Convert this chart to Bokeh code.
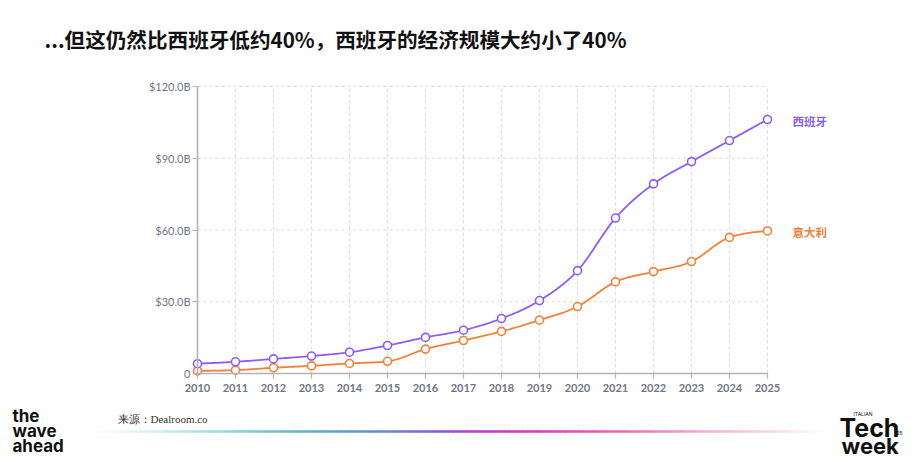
import numpy as np
from bokeh.plotting import figure
from bokeh.models import Range1d, LinearAxis, FixedTicker, ColumnDataSource
from bokeh.core.properties import value
from bokeh.embed import file_html
from bokeh.resources import INLINE

# ---------------- data ----------------
YEARS = list(range(2010, 2026))
SPAIN = [4.1, 4.9, 6.1, 7.3, 8.9, 11.7, 15.1, 18.1, 23.0, 30.5, 43.0, 65.0, 79.3, 88.6, 97.4, 106.2]
ITALY = [1.1, 1.4, 2.4, 3.2, 4.2, 5.1, 10.2, 13.8, 17.6, 22.3, 28.0, 38.3, 42.6, 46.8, 56.9, 59.6]
SERIES_NAMES = ["西班牙", "意大利"]
Y_TICKS = [0, 30, 60, 90, 120]
Y_TICK_LABELS = ["0", "$30.0B", "$60.0B", "$90.0B", "$120.0B"]
TITLE = "...但这仍然比西班牙低约40%，西班牙的经济规模大约小了40%"
SOURCE = "来源：Dealroom.co"

# ---------------- layout (page pixels) ----------------
W, H = 920, 460
PX_X0, PX_X1 = 197, 767         # first / last year
PX_Y0, PX_Y1 = 373, 86          # 0 / 120
X_MIN, X_MAX = YEARS[0], YEARS[-1]
Y_MIN, Y_MAX = Y_TICKS[0], Y_TICKS[-1]
kx = (PX_X1 - PX_X0) / (X_MAX - X_MIN)
ky = (PX_Y0 - PX_Y1) / (Y_MAX - Y_MIN)

def dx(px):
    return X_MIN + (px - PX_X0) / kx

def dy(py):
    return Y_MIN + (PX_Y0 - py) / ky

PURPLE = "#8b5cf6"
ORANGE = "#f0813a"
TICK_COLOR = "#6f7687"
AXIS_COLOR = "#b3b3b3"
GRID_COLOR = "#dadada"

p = figure(width=W, height=H, output_backend="svg", toolbar_location=None,
           x_axis_location=None, y_axis_location=None,
           x_range=Range1d(dx(0), dx(W)), y_range=Range1d(dy(H), dy(0)),
           min_border=0)
p.outline_line_color = None
p.xgrid.visible = False
p.ygrid.visible = False
p.border_fill_color = "white"
p.background_fill_color = "white"

# ---------------- grid ----------------
gx = YEARS[1:]
p.segment(x0=gx, y0=[Y_MIN] * len(gx), x1=gx, y1=[Y_MAX] * len(gx),
          line_color=GRID_COLOR, line_width=1, line_dash="3 3")
gy = Y_TICKS[1:]
p.segment(x0=[X_MIN] * len(gy), y0=gy, x1=[X_MAX] * len(gy), y1=gy,
          line_color=GRID_COLOR, line_width=1, line_dash="3 3")

# ---------------- axes ----------------
xaxis = LinearAxis(ticker=FixedTicker(ticks=YEARS), fixed_location=Y_MIN, bounds=(X_MIN, X_MAX))
yaxis = LinearAxis(ticker=FixedTicker(ticks=Y_TICKS), fixed_location=X_MIN, bounds=(Y_MIN, Y_MAX))
yaxis.major_label_overrides = {tk: lb for tk, lb in zip(Y_TICKS, Y_TICK_LABELS)}
for ax in (xaxis, yaxis):
    ax.axis_line_color = AXIS_COLOR
    ax.axis_line_width = 1.6
    ax.major_tick_line_color = AXIS_COLOR
    ax.major_tick_line_width = 1.2
    ax.major_tick_out = 5
    ax.major_tick_in = 0
    ax.minor_tick_line_color = None
    ax.major_label_text_color = TICK_COLOR
    ax.major_label_text_font = "Lato"
    ax.major_label_text_font_size = "11px"
xaxis.major_label_standoff = 5
xaxis.major_label_text_font_style = "bold"
yaxis.major_label_standoff = 2
p.add_layout(xaxis, "below")
p.add_layout(yaxis, "left")

# ---------------- smooth lines (monotone cubic, like d3.curveMonotoneX) ----------------
def monotone_curve(xs, ys, n=24):
    xs = np.asarray(xs, float)
    ys = np.asarray(ys, float)
    h = np.diff(xs)
    s = np.diff(ys) / h
    tg = np.zeros(len(xs))
    for i in range(1, len(xs) - 1):
        pp = (s[i - 1] * h[i] + s[i] * h[i - 1]) / (h[i - 1] + h[i])
        tg[i] = (np.sign(s[i - 1]) + np.sign(s[i])) * min(abs(s[i - 1]), abs(s[i]), 0.5 * abs(pp))
    tg[0] = (3 * s[0] - tg[1]) / 2
    tg[-1] = (3 * s[-1] - tg[-2]) / 2
    ox, oy = [], []
    for i in range(len(xs) - 1):
        u = np.linspace(0, 1, n, endpoint=(i == len(xs) - 2))
        h00 = 2 * u**3 - 3 * u**2 + 1
        h10 = u**3 - 2 * u**2 + u
        h01 = -2 * u**3 + 3 * u**2
        h11 = u**3 - u**2
        ox.extend(xs[i] + u * h[i])
        oy.extend(h00 * ys[i] + h10 * h[i] * tg[i] + h01 * ys[i + 1] + h11 * h[i] * tg[i + 1])
    return ox, oy

for vals, col in ((ITALY, ORANGE), (SPAIN, PURPLE)):
    cx, cy = monotone_curve(YEARS, vals)
    p.line(cx, cy, line_color=col, line_width=1.8)
    p.scatter(YEARS, vals, marker="circle", size=8, fill_color="white",
              line_color=col, line_width=1.6)

src = ColumnDataSource(dict(x=[YEARS[-1], YEARS[-1]], y=[SPAIN[-1], ITALY[-1]],
                            t=SERIES_NAMES, c=[PURPLE, ORANGE]))
p.text(x="x", y="y", text="t", text_color="c", source=src, x_offset=25, y_offset=1,
       text_baseline="middle", text_font=value("Noto Sans CJK SC"),
       text_font_style="bold", text_font_size="11.5px")

# ---------------- title ----------------
p.text(x=[dx(44)], y=[dy(38)], text=[TITLE], text_baseline="middle",
       text_font=value("Noto Sans CJK SC"), text_font_style="bold",
       text_font_size="20.6px", text_color="#111111")

# ---------------- footer ----------------
p.text(x=[dx(117)], y=[dy(418)], text=[SOURCE], text_baseline="middle",
       text_font=value("Liberation Serif"), text_font_size="11px", text_color="#333333")

stops_px = [88, 200, 300, 380, 440, 480, 540, 620, 700, 790, 835]
stops_rgb = [(200, 235, 238), (170, 225, 230), (95, 180, 195), (100, 140, 200),
             (140, 90, 210), (190, 60, 200), (215, 65, 185), (232, 105, 180),
             (242, 170, 210), (250, 228, 238), (255, 255, 255)]
stops_a = [0.0, 1, 1, 1, 1, 1, 1, 1, 1, 1, 0.0]
N = 160
edges = np.linspace(stops_px[0], stops_px[-1], N + 1)
mids = (edges[:-1] + edges[1:]) / 2
cols, alphas = [], []
for m in mids:
    r = np.interp(m, stops_px, [c[0] for c in stops_rgb])
    g = np.interp(m, stops_px, [c[1] for c in stops_rgb])
    b = np.interp(m, stops_px, [c[2] for c in stops_rgb])
    cols.append("#%02x%02x%02x" % (int(r), int(g), int(b)))
    alphas.append(float(np.interp(m, stops_px, stops_a)))
p.segment(x0=[dx(e) for e in edges[:-1]], x1=[dx(e + 0.6) for e in edges[1:]],
          y0=[dy(431)] * N, y1=[dy(431)] * N,
          line_color=cols, line_alpha=alphas, line_width=2.5)

# logos (as text)
for txt, top in (("the", 405), ("wave", 420), ("ahead", 435)):
    p.text(x=[dx(12)], y=[dy(top)], text=[txt], text_baseline="top",
           text_font=value("Inter"), text_font_style="bold",
           text_font_size="17px", text_color="#111111")
p.text(x=[dx(853)], y=[dy(410)], text=["ITALIAN"], text_baseline="top",
       text_font=value("Inter"), text_font_size="5px", text_color="#111111")
p.text(x=[dx(839)], y=[dy(412)], text=["Tech"], text_baseline="top",
       text_font=value("Inter"), text_font_style="bold",
       text_font_size="25px", text_color="#111111")
p.text(x=[dx(841)], y=[dy(432)], text=["week"], text_baseline="top",
       text_font=value("Inter"), text_font_style="bold",
       text_font_size="22px", text_color="#111111")
p.text(x=[dx(896)], y=[dy(430)], text=["25"], text_baseline="top",
       text_font=value("Inter"), text_font_size="5px", text_color="#111111")

open("out.html", "w").write(file_html(p, INLINE))
